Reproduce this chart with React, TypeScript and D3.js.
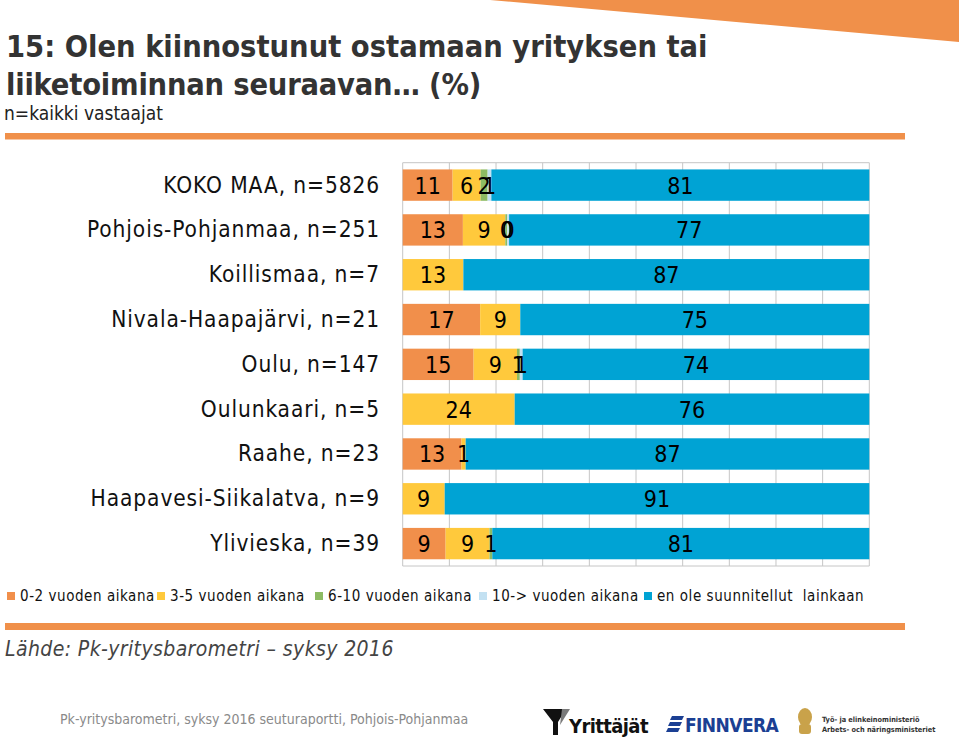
import React from "react";
import * as d3 from "d3";

const categories = [
  "KOKO MAA, n=5826",
  "Pohjois-Pohjanmaa, n=251",
  "Koillismaa, n=7",
  "Nivala-Haapajärvi, n=21",
  "Oulu, n=147",
  "Oulunkaari, n=5",
  "Raahe, n=23",
  "Haapavesi-Siikalatva, n=9",
  "Ylivieska, n=39",
];
const seriesNames = [
  "0-2 vuoden aikana",
  "3-5 vuoden aikana",
  "6-10 vuoden aikana",
  "10-> vuoden aikana",
  "en ole suunnitellut  lainkaan",
];
const s0 = [10.7, 12.9, 0, 16.6, 15.2, 0, 12.6, 0, 9.2];
const s1 = [6.0, 9.1, 13, 8.6, 9.3, 24, 0.9, 9, 9.4];
const s2 = [1.5, 0.4, 0, 0, 0.6, 0, 0, 0, 0.6];
const s3 = [0.8, 0.4, 0, 0, 0.6, 0, 0, 0, 0];
const s4 = [81, 77.2, 87, 74.8, 74.3, 76, 86.5, 91, 80.8];
const xTicks = [0, 10, 20, 30, 40, 50, 60, 70, 80, 90, 100];

const colors = ["#F18F4B", "#FFC93C", "#8DBB63", "#C3E1F2", "#00A3D4"];
const FONT = "'DejaVu Sans Condensed', 'DejaVu Sans', sans-serif";

export default function App() {
  const W = 959;
  const H = 743;
  const seriesVals = [s0, s1, s2, s3, s4];
  const rows = categories.map((c, i) => {
    const r: any = { cat: c };
    seriesVals.forEach((s, k) => (r["k" + k] = s[i]));
    return r;
  });
  const keys = seriesVals.map((_, k) => "k" + k);
  const stacked = d3.stack().keys(keys)(rows);

  const x = d3.scaleLinear().domain([0, 100]).range([402.7, 869.3]);
  const y = d3
    .scaleBand<string>()
    .domain(categories)
    .range([162.7, 566])
    .paddingInner(0.3)
    .paddingOuter(0.15);

  const legendX = [7, 157, 315, 479, 644];

  return (
    <div style={{ position: "absolute", left: 0, top: 0 }}>
      <svg width={W} height={H} style={{ display: "block", fontFamily: FONT }}>
        <rect x={0} y={0} width={W} height={H} fill="#fff" />
        {/* header decoration */}
        <polygon points="490,0 959,0 959,42" fill="#F0904A" />
        <text x={6} y={57} fontSize={30.5} fontWeight="bold" fill="#333">
          15: Olen kiinnostunut ostamaan yrityksen tai
        </text>
        <text x={6} y={95} fontSize={30.5} fontWeight="bold" fill="#333" letterSpacing={-0.2}>
          liiketoiminnan seuraavan… (%)
        </text>
        <text x={4} y={120} fontSize={19} fill="#222">
          n=kaikki vastaajat
        </text>
        <rect x={5} y={133} width={900} height={6.5} fill="#F0904A" />

        {/* grid */}
        {xTicks.map((t) => (
          <line
            key={t}
            x1={x(t)}
            x2={x(t)}
            y1={y.range()[0]}
            y2={y.range()[1]}
            stroke="#C6C6C6"
            strokeWidth={1}
          />
        ))}
        <line x1={x(0)} x2={x(100)} y1={162.7} y2={162.7} stroke="#C6C6C6" />
        <line x1={x(0)} x2={x(100)} y1={566} y2={566} stroke="#C6C6C6" />

        {/* bars */}
        {stacked.map((layer, k) =>
          layer.map((d, i) =>
            d[1] - d[0] > 0 ? (
              <rect
                key={k + "-" + i}
                x={x(d[0])}
                width={x(d[1]) - x(d[0])}
                y={y(categories[i])}
                height={y.bandwidth()}
                fill={colors[k]}
              />
            ) : null
          )
        )}
        {/* labels */}
        {stacked.map((layer, k) =>
          layer.map((d, i) =>
            d[1] - d[0] > 0 ? (
              <text
                key={"l" + k + "-" + i}
                x={x((d[0] + d[1]) / 2)}
                y={(y(categories[i]) as number) + y.bandwidth() / 2 + 8.5}
                textAnchor="middle"
                fontSize={23}
                fill="#000"
              >
                {Math.round(d[1] - d[0])}
              </text>
            ) : null
          )
        )}
        {/* category labels */}
        {categories.map((c) => (
          <text
            key={c}
            x={380}
            y={(y(c) as number) + y.bandwidth() / 2 + 7.5}
            textAnchor="end"
            fontSize={22.5}
            letterSpacing={0.9}
            fill="#111"
          >
            {c}
          </text>
        ))}

        {/* legend */}
        {seriesNames.map((n, k) => (
          <g key={n} transform={`translate(${legendX[k]},0)`}>
            <rect x={0} y={592} width={8} height={8} fill={colors[k]} />
            <text
              x={13}
              y={601}
              fontSize={15}
              letterSpacing={0.55}
              fill="#111"
              style={{ whiteSpace: "pre" }}
            >
              {n}
            </text>
          </g>
        ))}

        <rect x={5} y={623} width={900} height={7} fill="#F0904A" />
        <text x={5} y={656} fontSize={21} letterSpacing={0.4} fontStyle="italic" fill="#444">
          Lähde: Pk-yritysbarometri – syksy 2016
        </text>

        {/* footer */}
        <text x={60} y={724} fontSize={14} fill="#8a8a8a">
          Pk-yritysbarometri, syksy 2016 seuturaportti, Pohjois-Pohjanmaa
        </text>
        {/* Yrittäjät logo */}
        <polygon points="543,709 566,709 558,722 558,735 553,735 553,722" fill="#111" />
        <polygon points="562,709 570,709 560,725" fill="#7a7a7a" />
        <text x={569} y={733} fontSize={20} fontWeight="bold" fill="#111" letterSpacing={-0.6}>
          Yrittäjät
        </text>
        {/* Finnvera logo */}
        <g fill="#1B3F93">
          <polygon points="672,716 684,716 682,720 670,720" />
          <polygon points="670,722 682,722 680,726 668,726" />
          <polygon points="668,728 680,728 678,732 666,732" />
        </g>
        <text x={685} y={732} fontSize={19} fontWeight="bold" fill="#1B3F93" letterSpacing={-0.6}>
          FINNVERA
        </text>
        {/* Ministry logo */}
        <g fill="#C9A24A">
          <ellipse cx={805} cy={717} rx={7} ry={9} />
          <rect x={799} y={724} width={12} height={10} rx={3} />
        </g>
        <text x={822} y={722} fontSize={7.3} fontWeight="bold" fill="#333">
          Työ- ja elinkeinoministeriö
        </text>
        <text x={822} y={732} fontSize={7.3} fontWeight="bold" fill="#333">
          Arbets- och näringsministeriet
        </text>
      </svg>
    </div>
  );
}
